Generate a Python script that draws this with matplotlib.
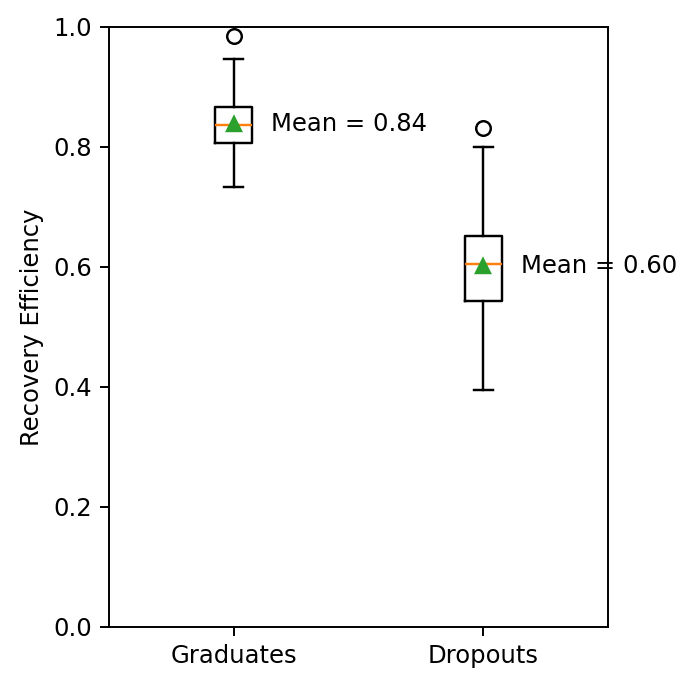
import matplotlib
matplotlib.use("Agg")
import matplotlib.pyplot as plt

groups = ["Graduates", "Dropouts"]
whislo = [0.734, 0.395]
q1 = [0.806, 0.544]
med = [0.837, 0.605]
q3 = [0.866, 0.651]
whishi = [0.946, 0.800]
means = [0.838, 0.602]
fliers = [[0.985], [0.832]]

DPI = 175
fig = plt.figure(figsize=(696 / DPI, 687 / DPI), dpi=DPI)
ax = fig.add_axes([109 / 696, 1 - 627 / 687, 499 / 696, 600 / 687])

stats = []
for i, g in enumerate(groups):
    stats.append(dict(label=g, whislo=whislo[i], q1=q1[i], med=med[i], q3=q3[i],
                      whishi=whishi[i], mean=means[i], fliers=fliers[i]))

ax.bxp(stats, positions=[1, 2], widths=0.15, showmeans=True)

for i, m in enumerate(means):
    ax.text(i + 1 + 0.15, m, f"Mean = {m:.2f}", ha="left", va="center", fontsize=10)

ax.set_ylim(0, 1)
ax.set_xlim(0.5, 2.5)
ax.set_ylabel("Recovery Efficiency")

fig.savefig("out.png", dpi=DPI)
